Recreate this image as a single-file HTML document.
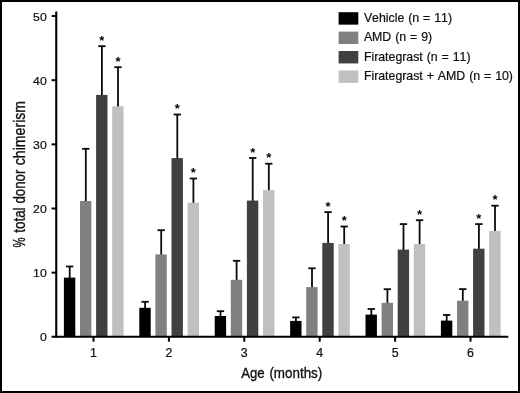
<!DOCTYPE html>
<html><head><meta charset="utf-8"><title>chart</title>
<style>
html,body{margin:0;padding:0;background:#fff;}
body{width:520px;height:393px;overflow:hidden;position:relative;}
svg{display:block;position:absolute;left:0;top:0;will-change:transform;}
text{-webkit-font-smoothing:antialiased;}
text{font-family:"Liberation Sans",Arial,Helvetica,sans-serif;fill:#111;}
.star{font-weight:bold;fill:#000;}
.ttl{stroke:#111;stroke-width:0.35px;}
.lg{stroke:#111;stroke-width:0.22px;font-kerning:none;}
</style></head><body>
<svg width="520" height="393" viewBox="0 0 520 393">
<rect x="0" y="0" width="520" height="393" fill="#fff"/>
<rect x="1" y="1" width="518" height="391" fill="none" stroke="#000" stroke-width="2"/>

<line x1="69.7" y1="266.5" x2="69.7" y2="278.6" stroke="#0a0a0a" stroke-width="1.8"/>
<line x1="66.00" y1="266.5" x2="73.35" y2="266.5" stroke="#0a0a0a" stroke-width="1.8"/>
<rect x="63.9" y="277.6" width="11.4" height="58.4" fill="#000000"/>
<line x1="85.8" y1="148.8" x2="85.8" y2="202.0" stroke="#0a0a0a" stroke-width="1.8"/>
<line x1="82.10" y1="148.8" x2="89.45" y2="148.8" stroke="#0a0a0a" stroke-width="1.8"/>
<rect x="80.0" y="201.0" width="11.4" height="135.0" fill="#808080"/>
<line x1="101.9" y1="46.2" x2="101.9" y2="95.9" stroke="#0a0a0a" stroke-width="1.8"/>
<line x1="98.20" y1="46.2" x2="105.55" y2="46.2" stroke="#0a0a0a" stroke-width="1.8"/>
<rect x="96.1" y="94.9" width="11.4" height="241.1" fill="#404040"/>
<text class="star" x="101.9" y="44.8" font-size="13" text-anchor="middle">*</text>
<line x1="118.0" y1="67.2" x2="118.0" y2="107.3" stroke="#0a0a0a" stroke-width="1.8"/>
<line x1="114.30" y1="67.2" x2="121.65" y2="67.2" stroke="#0a0a0a" stroke-width="1.8"/>
<rect x="112.2" y="106.3" width="11.4" height="229.7" fill="#c0c0c0"/>
<text class="star" x="118.0" y="65.8" font-size="13" text-anchor="middle">*</text>
<line x1="145.1" y1="301.8" x2="145.1" y2="308.8" stroke="#0a0a0a" stroke-width="1.8"/>
<line x1="141.40" y1="301.8" x2="148.75" y2="301.8" stroke="#0a0a0a" stroke-width="1.8"/>
<rect x="139.3" y="307.8" width="11.4" height="28.2" fill="#000000"/>
<line x1="161.2" y1="230.2" x2="161.2" y2="255.4" stroke="#0a0a0a" stroke-width="1.8"/>
<line x1="157.50" y1="230.2" x2="164.85" y2="230.2" stroke="#0a0a0a" stroke-width="1.8"/>
<rect x="155.4" y="254.4" width="11.4" height="81.6" fill="#808080"/>
<line x1="177.3" y1="114.5" x2="177.3" y2="159.1" stroke="#0a0a0a" stroke-width="1.8"/>
<line x1="173.60" y1="114.5" x2="180.95" y2="114.5" stroke="#0a0a0a" stroke-width="1.8"/>
<rect x="171.5" y="158.1" width="11.4" height="177.9" fill="#404040"/>
<text class="star" x="177.3" y="113.1" font-size="13" text-anchor="middle">*</text>
<line x1="193.4" y1="178.5" x2="193.4" y2="203.7" stroke="#0a0a0a" stroke-width="1.8"/>
<line x1="189.70" y1="178.5" x2="197.05" y2="178.5" stroke="#0a0a0a" stroke-width="1.8"/>
<rect x="187.6" y="202.7" width="11.4" height="133.3" fill="#c0c0c0"/>
<text class="star" x="193.4" y="177.1" font-size="13" text-anchor="middle">*</text>
<line x1="220.5" y1="311.2" x2="220.5" y2="317.0" stroke="#0a0a0a" stroke-width="1.8"/>
<line x1="216.80" y1="311.2" x2="224.15" y2="311.2" stroke="#0a0a0a" stroke-width="1.8"/>
<rect x="214.7" y="316.0" width="11.4" height="20.0" fill="#000000"/>
<line x1="236.6" y1="260.8" x2="236.6" y2="280.8" stroke="#0a0a0a" stroke-width="1.8"/>
<line x1="232.90" y1="260.8" x2="240.25" y2="260.8" stroke="#0a0a0a" stroke-width="1.8"/>
<rect x="230.8" y="279.8" width="11.4" height="56.2" fill="#808080"/>
<line x1="252.7" y1="158.0" x2="252.7" y2="201.6" stroke="#0a0a0a" stroke-width="1.8"/>
<line x1="249.00" y1="158.0" x2="256.35" y2="158.0" stroke="#0a0a0a" stroke-width="1.8"/>
<rect x="246.9" y="200.6" width="11.4" height="135.4" fill="#404040"/>
<text class="star" x="252.7" y="156.6" font-size="13" text-anchor="middle">*</text>
<line x1="268.8" y1="163.7" x2="268.8" y2="191.1" stroke="#0a0a0a" stroke-width="1.8"/>
<line x1="265.10" y1="163.7" x2="272.45" y2="163.7" stroke="#0a0a0a" stroke-width="1.8"/>
<rect x="263.0" y="190.1" width="11.4" height="145.9" fill="#c0c0c0"/>
<text class="star" x="268.8" y="162.3" font-size="13" text-anchor="middle">*</text>
<line x1="295.9" y1="317.4" x2="295.9" y2="321.9" stroke="#0a0a0a" stroke-width="1.8"/>
<line x1="292.20" y1="317.4" x2="299.55" y2="317.4" stroke="#0a0a0a" stroke-width="1.8"/>
<rect x="290.1" y="320.9" width="11.4" height="15.1" fill="#000000"/>
<line x1="312.0" y1="268.3" x2="312.0" y2="288.1" stroke="#0a0a0a" stroke-width="1.8"/>
<line x1="308.30" y1="268.3" x2="315.65" y2="268.3" stroke="#0a0a0a" stroke-width="1.8"/>
<rect x="306.2" y="287.1" width="11.4" height="48.9" fill="#808080"/>
<line x1="328.1" y1="212.1" x2="328.1" y2="243.9" stroke="#0a0a0a" stroke-width="1.8"/>
<line x1="324.40" y1="212.1" x2="331.75" y2="212.1" stroke="#0a0a0a" stroke-width="1.8"/>
<rect x="322.3" y="242.9" width="11.4" height="93.1" fill="#404040"/>
<text class="star" x="328.1" y="210.7" font-size="13" text-anchor="middle">*</text>
<line x1="344.2" y1="226.5" x2="344.2" y2="245.0" stroke="#0a0a0a" stroke-width="1.8"/>
<line x1="340.50" y1="226.5" x2="347.85" y2="226.5" stroke="#0a0a0a" stroke-width="1.8"/>
<rect x="338.4" y="244.0" width="11.4" height="92.0" fill="#c0c0c0"/>
<text class="star" x="344.2" y="225.1" font-size="13" text-anchor="middle">*</text>
<line x1="371.3" y1="309.0" x2="371.3" y2="315.6" stroke="#0a0a0a" stroke-width="1.8"/>
<line x1="367.60" y1="309.0" x2="374.95" y2="309.0" stroke="#0a0a0a" stroke-width="1.8"/>
<rect x="365.5" y="314.6" width="11.4" height="21.4" fill="#000000"/>
<line x1="387.4" y1="289.2" x2="387.4" y2="303.8" stroke="#0a0a0a" stroke-width="1.8"/>
<line x1="383.70" y1="289.2" x2="391.05" y2="289.2" stroke="#0a0a0a" stroke-width="1.8"/>
<rect x="381.6" y="302.8" width="11.4" height="33.2" fill="#808080"/>
<line x1="403.5" y1="224.1" x2="403.5" y2="250.6" stroke="#0a0a0a" stroke-width="1.8"/>
<line x1="399.80" y1="224.1" x2="407.15" y2="224.1" stroke="#0a0a0a" stroke-width="1.8"/>
<rect x="397.7" y="249.6" width="11.4" height="86.4" fill="#404040"/>
<line x1="419.6" y1="220.2" x2="419.6" y2="245.1" stroke="#0a0a0a" stroke-width="1.8"/>
<line x1="415.90" y1="220.2" x2="423.25" y2="220.2" stroke="#0a0a0a" stroke-width="1.8"/>
<rect x="413.8" y="244.1" width="11.4" height="91.9" fill="#c0c0c0"/>
<text class="star" x="419.6" y="218.8" font-size="13" text-anchor="middle">*</text>
<line x1="446.7" y1="315.0" x2="446.7" y2="321.6" stroke="#0a0a0a" stroke-width="1.8"/>
<line x1="443.00" y1="315.0" x2="450.35" y2="315.0" stroke="#0a0a0a" stroke-width="1.8"/>
<rect x="440.9" y="320.6" width="11.4" height="15.4" fill="#000000"/>
<line x1="462.8" y1="289.1" x2="462.8" y2="301.7" stroke="#0a0a0a" stroke-width="1.8"/>
<line x1="459.10" y1="289.1" x2="466.45" y2="289.1" stroke="#0a0a0a" stroke-width="1.8"/>
<rect x="457.0" y="300.7" width="11.4" height="35.3" fill="#808080"/>
<line x1="478.9" y1="224.1" x2="478.9" y2="249.7" stroke="#0a0a0a" stroke-width="1.8"/>
<line x1="475.20" y1="224.1" x2="482.55" y2="224.1" stroke="#0a0a0a" stroke-width="1.8"/>
<rect x="473.1" y="248.7" width="11.4" height="87.3" fill="#404040"/>
<text class="star" x="478.9" y="222.7" font-size="13" text-anchor="middle">*</text>
<line x1="495.0" y1="205.7" x2="495.0" y2="231.9" stroke="#0a0a0a" stroke-width="1.8"/>
<line x1="491.30" y1="205.7" x2="498.65" y2="205.7" stroke="#0a0a0a" stroke-width="1.8"/>
<rect x="489.2" y="230.9" width="11.4" height="105.1" fill="#c0c0c0"/>
<text class="star" x="495.0" y="204.3" font-size="13" text-anchor="middle">*</text>
<line x1="56.25" y1="11.5" x2="56.25" y2="337.7" stroke="#000" stroke-width="2.1"/>
<line x1="51.6" y1="336.8" x2="508.3" y2="336.8" stroke="#000" stroke-width="2.1"/>
<line x1="51.6" y1="272.65" x2="56" y2="272.65" stroke="#000" stroke-width="2"/>
<line x1="51.6" y1="208.50" x2="56" y2="208.50" stroke="#000" stroke-width="2"/>
<line x1="51.6" y1="144.35" x2="56" y2="144.35" stroke="#000" stroke-width="2"/>
<line x1="51.6" y1="80.20" x2="56" y2="80.20" stroke="#000" stroke-width="2"/>
<line x1="51.6" y1="16.05" x2="56" y2="16.05" stroke="#000" stroke-width="2"/>
<text class="lg" transform="translate(46.7,341.2) scale(1.04,1)" font-size="11.8" text-anchor="end">0</text>
<text class="lg" transform="translate(46.7,277.0) scale(1.04,1)" font-size="11.8" text-anchor="end">10</text>
<text class="lg" transform="translate(46.7,212.9) scale(1.04,1)" font-size="11.8" text-anchor="end">20</text>
<text class="lg" transform="translate(46.7,148.8) scale(1.04,1)" font-size="11.8" text-anchor="end">30</text>
<text class="lg" transform="translate(46.7,84.6) scale(1.04,1)" font-size="11.8" text-anchor="end">40</text>
<text class="lg" transform="translate(46.7,20.5) scale(1.04,1)" font-size="11.8" text-anchor="end">50</text>
<line x1="93.5" y1="337" x2="93.5" y2="341.7" stroke="#000" stroke-width="2"/>
<text class="lg" transform="translate(93.5,357.4) scale(1.04,1)" font-size="11.9" text-anchor="middle">1</text>
<line x1="168.9" y1="337" x2="168.9" y2="341.7" stroke="#000" stroke-width="2"/>
<text class="lg" transform="translate(168.9,357.4) scale(1.04,1)" font-size="11.9" text-anchor="middle">2</text>
<line x1="244.3" y1="337" x2="244.3" y2="341.7" stroke="#000" stroke-width="2"/>
<text class="lg" transform="translate(244.3,357.4) scale(1.04,1)" font-size="11.9" text-anchor="middle">3</text>
<line x1="319.7" y1="337" x2="319.7" y2="341.7" stroke="#000" stroke-width="2"/>
<text class="lg" transform="translate(319.7,357.4) scale(1.04,1)" font-size="11.9" text-anchor="middle">4</text>
<line x1="395.1" y1="337" x2="395.1" y2="341.7" stroke="#000" stroke-width="2"/>
<text class="lg" transform="translate(395.1,357.4) scale(1.04,1)" font-size="11.9" text-anchor="middle">5</text>
<line x1="470.5" y1="337" x2="470.5" y2="341.7" stroke="#000" stroke-width="2"/>
<text class="lg" transform="translate(470.5,357.4) scale(1.04,1)" font-size="11.9" text-anchor="middle">6</text>
<text class="ttl" x="241.2" y="378" font-size="15.5" textLength="23.4" lengthAdjust="spacingAndGlyphs">Age</text>
<text class="ttl" x="269.4" y="378" font-size="15.5" textLength="52.9" lengthAdjust="spacingAndGlyphs">(months)</text>
<text class="ttl" transform="translate(24.6,247.4) rotate(-90)" font-size="16" textLength="10.1" lengthAdjust="spacingAndGlyphs">%</text>
<text class="ttl" transform="translate(24.6,232.8) rotate(-90)" font-size="16" textLength="25.4" lengthAdjust="spacingAndGlyphs">total</text>
<text class="ttl" transform="translate(24.6,203.6) rotate(-90)" font-size="16" textLength="33.9" lengthAdjust="spacingAndGlyphs">donor</text>
<text class="ttl" transform="translate(24.6,165.2) rotate(-90)" font-size="16" textLength="64.3" lengthAdjust="spacingAndGlyphs">chimerism</text>
<rect x="338.6" y="12.2" width="19.7" height="12.45" fill="#000000"/>
<text class="lg" transform="translate(363.9,22.3) scale(1.035,1)" font-size="11.9" word-spacing="0.5">Vehicle (n = 11)</text>
<rect x="338.6" y="31.6" width="19.7" height="12.45" fill="#808080"/>
<text class="lg" transform="translate(363.9,41.4) scale(1.035,1)" font-size="11.9" word-spacing="0.5">AMD (n = 9)</text>
<rect x="338.6" y="51.0" width="19.7" height="12.45" fill="#404040"/>
<text class="lg" transform="translate(363.9,60.9) scale(1.035,1)" font-size="11.9" word-spacing="0.5">Firategrast (n = 11)</text>
<rect x="338.6" y="70.5" width="19.7" height="12.45" fill="#c0c0c0"/>
<text class="lg" transform="translate(363.9,80.0) scale(1.035,1)" font-size="11.9" word-spacing="0.5">Firategrast + AMD (n = 10)</text>
</svg></body></html>
